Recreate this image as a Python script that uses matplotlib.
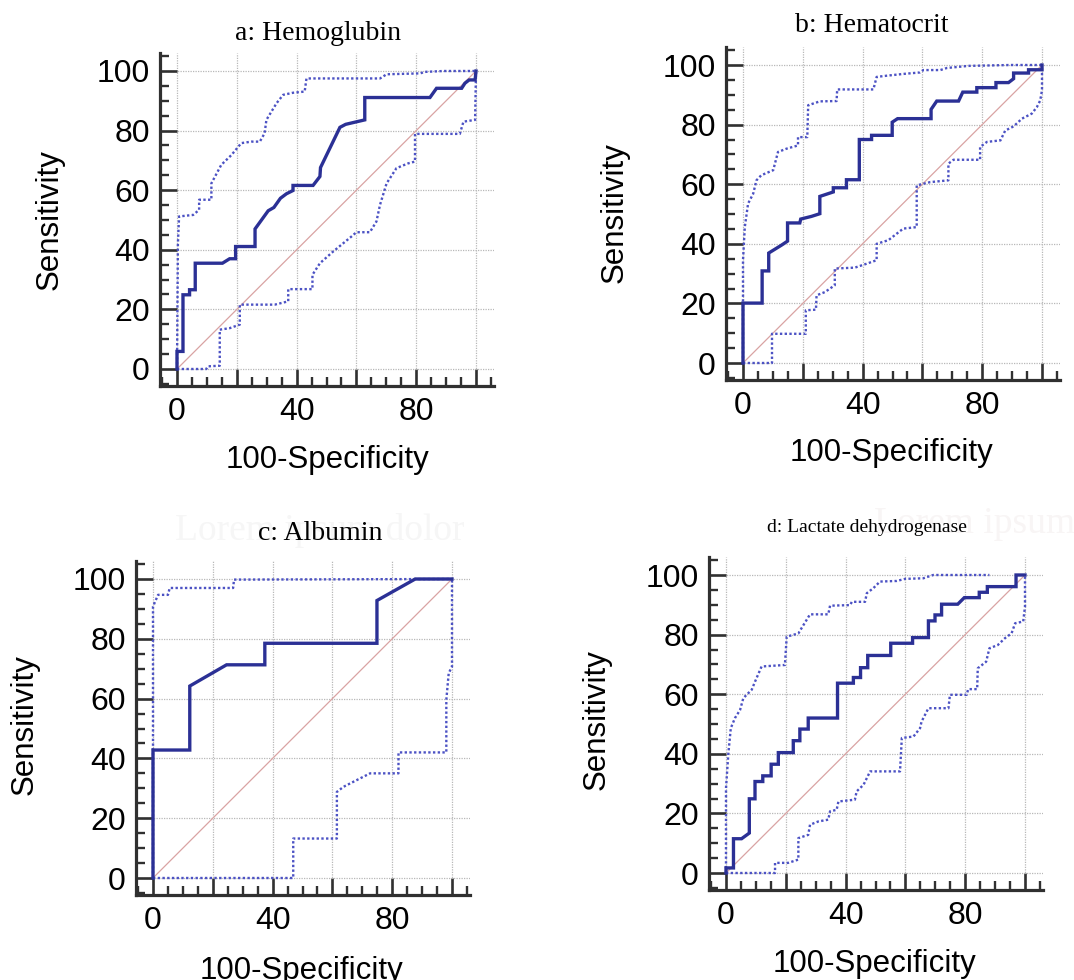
import matplotlib
matplotlib.use('Agg')
import matplotlib.pyplot as plt
from matplotlib.ticker import MultipleLocator, FixedLocator

plt.rcParams['font.family'] = 'Liberation Sans'

# ROC vertices: (100-Specificity, Sensitivity)
hb_roc = [(0, 0), (0, 5.9), (2.0, 5.9), (2.0, 24.9), (4.2, 24.9), (4.2, 26.6), (6.1, 26.6),
          (6.1, 35.5), (15.2, 35.5), (17.6, 37), (19.6, 37), (19.6, 41.1), (26.1, 41.1),
          (26.1, 47), (30.5, 53.1), (32.4, 54.2), (34.6, 57.3), (36.6, 58.8), (38.8, 59.9),
          (38.8, 61.6), (45.5, 61.6), (47.8, 64.6), (48, 67.6), (54.5, 81.1), (56.4, 82.1),
          (62.8, 83.6), (62.8, 91.1), (84.6, 91.1), (86.8, 94.2), (95.2, 94.2), (96.3, 95.9),
          (97.7, 97), (99.7, 97), (100, 100)]
hb_upper = [(0, 0), (0.3, 42), (0.7, 51.2), (5.4, 51.7), (7.4, 53.4), (7.4, 56.8), (11.5, 56.8),
            (11.5, 62.3), (14.8, 68.5), (18.2, 71.8), (21.5, 75.8), (24.9, 76.3), (27.7, 76.3),
            (29.3, 79.1), (29.9, 83.6), (33.3, 89.2), (35.5, 92), (38.8, 92.7), (42.7, 93.1),
            (43.3, 97.5), (67.9, 97.5), (70.1, 98.9), (81.3, 99.2), (82.9, 99.7), (89.1, 100),
            (100, 100)]
hb_lower = [(0, 0), (9.8, 0), (10.4, 0.9), (14.3, 1.1), (14.3, 13.2), (17.6, 13.7), (21, 14.9),
            (21, 21.6), (32.7, 21.6), (37.2, 22.7), (37.2, 26.8), (45.3, 26.8), (45.3, 31.6),
            (47.8, 35.5), (52.2, 39.4), (55.6, 42.2), (58.4, 44.5), (60, 45.9), (64.5, 45.9),
            (66.7, 49.5), (67.9, 55.1), (70.1, 62.3), (73.4, 67.4), (77.3, 69), (79.6, 69.6),
            (79.6, 78.9), (94.6, 78.9), (95.8, 83), (99.7, 83.6), (100, 100)]

hct_roc = [(0, 0), (0, 20.1), (6.4, 20.1), (6.4, 30.9), (8.6, 30.9), (8.6, 36.9), (12.8, 39.5),
           (14.9, 40.9), (14.9, 47), (19, 47), (19.3, 48.3), (22.9, 49.2), (25.7, 50.1),
           (25.7, 55.9), (30.2, 57.4), (30.2, 58.8), (34.6, 58.8), (34.6, 61.5), (38.9, 61.5),
           (38.9, 75), (43, 75), (43, 76.4), (49.9, 76.4), (49.9, 80.8), (51.7, 82), (62.9, 82),
           (62.9, 85.1), (64.8, 87.9), (72.1, 87.9), (73.5, 90.9), (78.2, 90.9), (78.2, 92.4),
           (84.6, 92.4), (84.6, 94.1), (88.8, 94.1), (90.5, 95.4), (90.5, 97.3), (95.5, 97.3),
           (95.5, 98.4), (100, 98.4), (100, 100)]
hct_upper = [(0, 0), (0, 34.5), (0.6, 45.6), (1.7, 53.5), (3.4, 56.8), (4.5, 61.3), (6.1, 63),
             (10.1, 64.7), (11.7, 70.8), (14.5, 71.9), (18.4, 73), (18.4, 75.8), (21.5, 75.8),
             (21.8, 86.5), (25.7, 87.8), (31.3, 87.9), (31.5, 91.8), (43.6, 91.8), (44.7, 96),
             (48, 96.4), (53.6, 97), (59.2, 97.5), (60.3, 98.3), (66, 98.3), (68.2, 99),
             (75.4, 99.7), (89.4, 100), (100, 100)]
hct_lower = [(0, 0), (9.7, 0), (9.7, 9.8), (21, 9.8), (21, 17.7), (24.4, 17.9), (24.6, 22.7),
             (27.4, 23.8), (30.7, 26.1), (30.7, 31.7), (37.4, 32), (41.3, 33.3), (44.7, 34.5),
             (44.7, 40), (48.6, 41.2), (53.6, 45.1), (58.1, 45.6), (58.1, 59.6), (62.6, 60.7),
             (68.7, 61.3), (68.7, 66.9), (70.4, 68.2), (79.3, 68.2), (79.3, 72.5), (81.6, 74.2),
             (86.1, 74.7), (87.7, 78), (90.5, 79.4), (93.3, 82), (96.6, 83.7), (98.3, 85.9),
             (99.4, 88.1), (100, 91.5), (100, 100)]

alb_roc = [(0, 0), (0, 42.8), (12.3, 42.8), (12.3, 64.2), (24.6, 71.3), (37.4, 71.3), (37.4, 78.5),
           (74.9, 78.5), (74.9, 92.8), (87.7, 100), (100, 100)]
alb_upper = [(0, 0), (0, 90.8), (1.7, 94.7), (5, 94.7), (5.6, 97), (26.8, 97), (27.1, 99.8),
             (100, 100)]
alb_lower = [(0, 0), (46.9, 0), (46.9, 13.2), (61.5, 13.2), (61.5, 28.8), (63.7, 30.5), (72.6, 35),
             (82.1, 35), (82.1, 42), (98.1, 42), (98.1, 59.6), (98.9, 68.5), (100, 70.7), (100, 100)]

ldh_roc = [(0, 0), (0, 1.7), (2.5, 1.7), (2.5, 11.5), (5.2, 11.5), (7.8, 13.4), (7.8, 24.9),
           (9.7, 24.9), (9.7, 30.7), (12.3, 30.7), (12.3, 32.6), (15.1, 32.6), (15.1, 36.5),
           (17.5, 36.5), (17.5, 40.4), (22.5, 40.4), (22.5, 44.4), (24.7, 44.4), (24.7, 48.3),
           (27.5, 48.3), (27.5, 52), (37.3, 52), (37.3, 63.7), (42.6, 63.7), (42.6, 65.6),
           (45, 65.6), (45, 68.9), (47.4, 68.9), (47.4, 73), (55.1, 73), (55.1, 77.1), (62.4, 77.1),
           (62.4, 79), (67.7, 79), (67.7, 84.6), (69.9, 84.6), (69.9, 86.6), (72.1, 86.6),
           (72.1, 90.2), (77.5, 90.2), (79.7, 92.4), (84.7, 92.4), (84.7, 94.2), (87.4, 94.2),
           (87.4, 96.1), (97, 96.1), (97, 100), (100, 100)]
ldh_upper = [(0, 0), (0, 28.5), (0.8, 40.2), (1.6, 48.6), (3, 52), (4.7, 54.7), (5.8, 58.7),
             (8.6, 61.5), (9.7, 64.2), (11.9, 69.3), (19.7, 69.8), (20.3, 79.3), (24.2, 80.4),
             (25.9, 83.2), (28.1, 86.8), (34.2, 86.8), (34.8, 89.7), (41.5, 89.9), (42.1, 91),
             (46.5, 91), (47.1, 93.9), (49.3, 95.6), (51.5, 97.8), (57.1, 98), (59.9, 98.7),
             (66, 98.9), (69.3, 100), (88.1, 100)]
ldh_lower = [(0, 0), (16.4, 0), (16.4, 3.4), (20.8, 3.4), (24.2, 4.5), (24.2, 11.7), (27.5, 12.8),
             (28.1, 16.2), (30.9, 17.3), (34.2, 17.9), (34.8, 20.7), (37, 21.2), (37.6, 24),
             (43.1, 24.6), (43.7, 27.4), (46, 29.6), (48.2, 34.1), (58.2, 34.1), (58.8, 45.3),
             (62.7, 45.8), (64.9, 48.6), (65.4, 50.8), (67.7, 55.3), (74.4, 55.3), (74.9, 59.8),
             (80.5, 59.8), (81, 61.7), (84, 61.7), (84.2, 68.7), (87, 70.9), (88.1, 75.4),
             (90.9, 76.5), (93.3, 78.8), (95.5, 80.4), (96.7, 83.8), (99.4, 84.4), (100, 89.4),
             (100, 100)]

titles = ['a: Hemoglubin', 'b: Hematocrit', 'c: Albumin', 'd: Lactate dehydrogenase']
curves = [(hb_roc, hb_upper, hb_lower), (hct_roc, hct_upper, hct_lower),
          (alb_roc, alb_upper, alb_lower), (ldh_roc, ldh_upper, ldh_lower)]

W, H = 1074, 980
fig = plt.figure(figsize=(W / 100, H / 100), dpi=100)

# pixel layout of each panel: x=0, x=100, y=0, y=100, then title/xlabel/ylabel centres
layout = [
    dict(px=(177, 476, 369, 71), title=(318, 33, 20), xl=(327, 460), yl=(50, 220)),
    dict(px=(743, 1042, 363, 65), title=(872, 25, 20), xl=(892, 453), yl=(615, 213)),
    dict(px=(153, 452, 878, 579), title=(320, 533, 20), xl=(302, 971), yl=(25, 725)),
    dict(px=(726, 1025, 873, 575), title=(867, 527, 14), xl=(875, 964), yl=(597, 720)),
]

LO, HI = -5.8, 106
ink = '#303030'

# barely visible ghost text behind the lower titles
fig.text(320 / W, 1 - 530 / H, 'Lorem ipsum dolor', family='Liberation Serif', fontsize=27,
         color='#f6f6f6', ha='center', va='center', zorder=0)
fig.text(1075 / W, 1 - 524 / H, 'Lorem ipsum', family='Liberation Serif', fontsize=27,
         color='#f8f5f5', ha='right', va='center', zorder=0)

for (roc, up, lo), lay, title in zip(curves, layout, titles):
    x0, x100, y0, y100 = lay['px']
    sx = (x100 - x0) / 100.0
    sy = (y0 - y100) / 100.0
    left, right = x0 + LO * sx, x0 + HI * sx
    bottom, top = y0 - LO * sy, y0 - HI * sy
    ax = fig.add_axes([left / W, 1 - bottom / H, (right - left) / W, (bottom - top) / H])
    ax.patch.set_alpha(0)
    ax.set_xlim(LO, HI)
    ax.set_ylim(LO, HI)

    ax.plot([0, 100], [0, 100], color='#d9a3a3', lw=0.9, zorder=2)
    for ci in (up, lo):
        ax.plot([p[0] for p in ci], [p[1] for p in ci], color='#4c52c4',
                lw=1.7, ls=(0, (1, 1)), zorder=3)
    ax.plot([p[0] for p in roc], [p[1] for p in roc], color='#2b3095', lw=2.4,
            solid_joinstyle='miter', zorder=4)

    for s in ('top', 'right'):
        ax.spines[s].set_visible(False)
    for s in ('left', 'bottom'):
        ax.spines[s].set_linewidth(2.3)
        ax.spines[s].set_color(ink)

    ax.xaxis.set_major_locator(FixedLocator([0, 20, 40, 60, 80, 100]))
    ax.set_xticklabels(['0', '', '40', '', '80', ''])
    ax.yaxis.set_major_locator(FixedLocator([0, 20, 40, 60, 80, 100]))
    ax.xaxis.set_minor_locator(MultipleLocator(5))
    ax.yaxis.set_minor_locator(MultipleLocator(5))
    ax.tick_params(which='major', direction='in', length=12.3, width=1.9, color=ink,
                   labelsize=23, pad=7)
    ax.tick_params(axis='x', which='major', pad=8)
    ax.tick_params(which='minor', direction='in', length=6.5, width=1.7, color=ink)
    ax.grid(True, which='major', color='#b8b8b8', lw=0.9, ls=(0, (1, 1)))
    ax.set_axisbelow(True)

    tx, ty, tsz = lay['title']
    fig.text(tx / W, 1 - ty / H, title, family='Liberation Serif', fontsize=tsz,
             ha='center', va='center')
    ax.set_xlabel('100-Specificity', fontsize=22.5, va='center')
    ax.xaxis.set_label_coords(lay['xl'][0] / W, 1 - lay['xl'][1] / H, transform=fig.transFigure)
    ax.set_ylabel('Sensitivity', fontsize=22.5, va='center')
    ax.yaxis.set_label_coords(lay['yl'][0] / W, 1 - lay['yl'][1] / H, transform=fig.transFigure)

fig.savefig('out.png', dpi=100)
